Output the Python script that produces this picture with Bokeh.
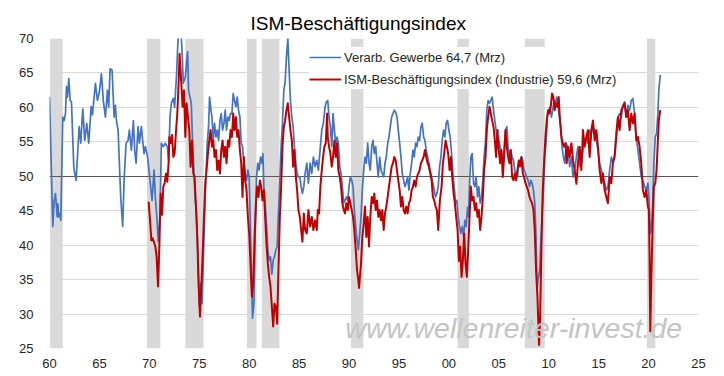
from bokeh.plotting import figure
from bokeh.models import Range1d, FixedTicker, Legend, LegendItem, Label
from bokeh.embed import file_html
from bokeh.resources import INLINE

# ---------------- data ----------------
# ISM PMI "Verarb. Gewerbe" (decimal year, value)
verarb = [
    (1960.00, 61.5), (1960.33, 42.7), (1960.47, 46.5), (1960.60, 47.5), (1960.77, 44.1),
    (1960.83, 46.0), (1960.93, 44.1), (1961.05, 44.6), (1961.13, 43.6), (1961.33, 58.6),
    (1961.47, 58.1), (1961.60, 59.1), (1961.70, 63.0), (1961.80, 61.5), (1961.93, 64.2),
    (1962.07, 61.0), (1962.20, 60.8), (1962.43, 51.4), (1962.53, 50.4), (1962.67, 49.4),
    (1962.80, 52.8), (1962.97, 57.2), (1963.13, 54.8), (1963.33, 59.8), (1963.53, 55.2),
    (1963.73, 57.7), (1963.93, 54.8), (1964.17, 60.1), (1964.30, 58.9), (1964.60, 63.5),
    (1964.80, 61.0), (1965.00, 62.3), (1965.20, 64.9), (1965.40, 60.8), (1965.60, 58.6),
    (1965.80, 62.5), (1965.93, 60.0), (1966.07, 65.6), (1966.27, 65.4), (1966.47, 58.6),
    (1966.60, 60.3), (1966.70, 58.1), (1966.87, 56.7), (1967.00, 51.9), (1967.13, 47.0),
    (1967.33, 42.7), (1967.47, 49.4), (1967.67, 54.8), (1967.87, 55.2), (1968.00, 56.7),
    (1968.20, 53.8), (1968.40, 58.1), (1968.53, 53.8), (1968.67, 51.9), (1968.87, 57.2),
    (1969.00, 54.8), (1969.20, 57.2), (1969.33, 55.2), (1969.47, 53.3), (1969.60, 54.3),
    (1969.80, 53.0), (1969.93, 51.4), (1970.13, 48.5), (1970.27, 46.5), (1970.47, 50.9),
    (1970.60, 47.0), (1970.80, 43.1), (1970.90, 40.5), (1971.07, 44.1), (1971.20, 54.8),
    (1971.40, 54.3), (1971.60, 54.8), (1971.80, 54.3), (1971.93, 52.3), (1972.07, 58.6),
    (1972.20, 60.6), (1972.40, 61.3), (1972.53, 60.0), (1972.73, 64.9), (1972.87, 69.8),
    (1973.03, 71.5), (1973.13, 72.0), (1973.27, 68.3), (1973.40, 63.5), (1973.60, 64.4),
    (1973.83, 68.1), (1973.93, 62.4), (1974.07, 61.5), (1974.20, 60.6), (1974.33, 54.8),
    (1974.47, 50.4), (1974.60, 46.5), (1974.73, 44.1), (1974.87, 38.3), (1975.00, 31.1),
    (1975.13, 34.4), (1975.27, 31.5), (1975.40, 37.3), (1975.53, 44.1), (1975.67, 49.9),
    (1975.80, 54.8), (1975.93, 57.2), (1976.03, 61.5), (1976.17, 59.6), (1976.27, 58.6),
    (1976.40, 55.2), (1976.53, 57.7), (1976.67, 55.7), (1976.80, 56.7), (1976.93, 55.2),
    (1977.07, 58.1), (1977.20, 59.1), (1977.33, 56.7), (1977.47, 57.7), (1977.60, 59.6),
    (1977.73, 56.7), (1977.87, 58.6), (1978.00, 58.1), (1978.13, 59.1), (1978.27, 59.1),
    (1978.40, 62.0), (1978.53, 61.0), (1978.67, 60.1), (1978.80, 61.5), (1978.93, 59.6),
    (1979.07, 58.6), (1979.20, 54.8), (1979.33, 54.3), (1979.47, 51.9), (1979.60, 50.4),
    (1979.73, 49.4), (1979.87, 50.9), (1980.00, 49.9), (1980.13, 42.2), (1980.27, 33.5),
    (1980.33, 29.4), (1980.47, 31.5), (1980.60, 41.2), (1980.73, 49.9), (1980.87, 51.9),
    (1981.00, 50.9), (1981.13, 52.8), (1981.27, 51.9), (1981.37, 53.3), (1981.47, 48.5),
    (1981.60, 46.1), (1981.73, 43.1), (1981.87, 39.3), (1982.00, 37.8), (1982.13, 38.3),
    (1982.27, 35.8), (1982.40, 37.8), (1982.53, 38.3), (1982.67, 39.3), (1982.80, 39.8),
    (1982.93, 44.6), (1983.07, 49.4), (1983.20, 54.3), (1983.33, 57.7), (1983.47, 62.5),
    (1983.60, 63.7), (1983.73, 67.3), (1983.87, 70.0), (1984.00, 65.4), (1984.13, 61.0),
    (1984.27, 58.6), (1984.40, 57.2), (1984.53, 54.3), (1984.67, 51.9), (1984.80, 50.4),
    (1984.93, 49.9), (1985.07, 49.9), (1985.20, 48.5), (1985.33, 47.5), (1985.47, 48.5),
    (1985.60, 50.4), (1985.77, 51.9), (1985.93, 49.0), (1986.10, 51.9), (1986.27, 50.4),
    (1986.43, 52.8), (1986.60, 51.4), (1986.77, 52.3), (1986.93, 50.9), (1987.10, 53.8),
    (1987.27, 56.7), (1987.43, 57.7), (1987.60, 60.1), (1987.73, 60.8), (1987.87, 61.0),
    (1988.00, 58.6), (1988.13, 57.2), (1988.27, 54.3), (1988.40, 59.1), (1988.53, 56.7),
    (1988.67, 54.8), (1988.80, 55.7), (1988.93, 54.8), (1989.07, 51.4), (1989.20, 50.4),
    (1989.33, 48.5), (1989.47, 46.1), (1989.60, 46.5), (1989.73, 47.0), (1989.87, 46.5),
    (1990.00, 48.5), (1990.13, 49.9), (1990.27, 49.4), (1990.40, 48.5), (1990.53, 45.1),
    (1990.67, 42.7), (1990.80, 40.7), (1990.93, 39.3), (1991.07, 41.7), (1991.20, 44.1),
    (1991.33, 48.0), (1991.47, 50.9), (1991.60, 52.8), (1991.73, 51.9), (1991.87, 54.8),
    (1992.00, 51.9), (1992.13, 50.9), (1992.27, 54.3), (1992.40, 55.2), (1992.53, 53.3),
    (1992.67, 54.3), (1992.80, 51.9), (1992.93, 49.9), (1993.07, 52.8), (1993.20, 50.9),
    (1993.33, 50.4), (1993.47, 49.9), (1993.60, 51.9), (1993.73, 52.8), (1993.87, 54.8),
    (1994.00, 55.7), (1994.13, 57.2), (1994.27, 58.6), (1994.40, 59.1), (1994.53, 59.6),
    (1994.67, 59.3), (1994.80, 58.6), (1994.93, 56.7), (1995.07, 54.8), (1995.20, 52.8),
    (1995.33, 50.4), (1995.47, 49.4), (1995.60, 48.5), (1995.73, 49.0), (1995.87, 49.9),
    (1996.00, 48.0), (1996.13, 50.4), (1996.27, 51.9), (1996.40, 53.8), (1996.53, 52.8),
    (1996.67, 54.8), (1996.80, 54.3), (1996.93, 55.7), (1997.07, 55.2), (1997.20, 57.2),
    (1997.33, 57.7), (1997.47, 55.7), (1997.60, 55.2), (1997.73, 53.8), (1997.87, 52.8),
    (1998.00, 51.9), (1998.13, 50.9), (1998.27, 49.9), (1998.40, 49.0), (1998.53, 48.0),
    (1998.67, 47.0), (1998.80, 47.5), (1998.93, 48.5), (1999.07, 51.4), (1999.20, 52.8),
    (1999.33, 55.2), (1999.47, 56.7), (1999.60, 55.7), (1999.73, 57.7), (1999.87, 58.1),
    (2000.00, 56.7), (2000.13, 55.7), (2000.27, 53.3), (2000.40, 50.4), (2000.53, 48.5),
    (2000.67, 46.1), (2000.80, 46.5), (2000.93, 44.1), (2001.07, 42.7), (2001.20, 41.7),
    (2001.33, 42.7), (2001.47, 41.2), (2001.60, 43.6), (2001.73, 42.7), (2001.87, 45.5),
    (2001.97, 44.1), (2002.07, 49.0), (2002.20, 52.8), (2002.33, 53.3), (2002.47, 49.0),
    (2002.60, 48.5), (2002.73, 49.9), (2002.87, 47.0), (2003.00, 48.5), (2003.13, 46.1),
    (2003.27, 47.0), (2003.40, 49.4), (2003.53, 52.8), (2003.67, 55.2), (2003.80, 59.6),
    (2003.93, 61.0), (2004.07, 60.6), (2004.20, 61.0), (2004.33, 61.5), (2004.47, 59.6),
    (2004.60, 58.1), (2004.73, 56.7), (2004.87, 54.8), (2005.00, 55.2), (2005.13, 54.3),
    (2005.27, 53.3), (2005.40, 51.9), (2005.53, 53.8), (2005.67, 56.7), (2005.80, 57.2),
    (2005.93, 54.3), (2006.07, 52.8), (2006.20, 53.8), (2006.33, 52.8), (2006.47, 52.3),
    (2006.60, 50.9), (2006.73, 50.4), (2006.87, 49.9), (2007.00, 51.9), (2007.13, 52.3),
    (2007.27, 52.8), (2007.40, 52.3), (2007.53, 50.9), (2007.67, 50.4), (2007.80, 49.9),
    (2007.93, 49.4), (2008.07, 48.5), (2008.20, 49.4), (2008.33, 49.0), (2008.47, 48.0),
    (2008.60, 46.1), (2008.73, 41.2), (2008.83, 33.5), (2008.92, 35.0), (2009.00, 35.5),
    (2009.10, 36.5), (2009.20, 40.0), (2009.30, 43.0), (2009.40, 46.0), (2009.50, 49.0),
    (2009.60, 53.0), (2009.73, 54.8), (2009.87, 58.6), (2010.00, 59.6), (2010.13, 60.1),
    (2010.27, 58.6), (2010.40, 59.6), (2010.53, 61.0), (2010.67, 60.6), (2010.80, 61.5),
    (2010.93, 60.1), (2011.07, 58.6), (2011.20, 57.2), (2011.33, 54.3), (2011.47, 52.8),
    (2011.60, 51.9), (2011.77, 54.8), (2011.93, 53.8), (2012.10, 51.4), (2012.27, 52.8),
    (2012.43, 49.9), (2012.60, 50.9), (2012.77, 52.8), (2012.93, 54.3), (2013.10, 51.4),
    (2013.27, 51.9), (2013.43, 53.8), (2013.60, 55.2), (2013.77, 55.7), (2013.93, 54.8),
    (2014.10, 56.7), (2014.27, 56.2), (2014.43, 57.2), (2014.60, 56.7), (2014.77, 55.2),
    (2014.93, 53.8), (2015.10, 51.9), (2015.27, 50.9), (2015.43, 49.9), (2015.60, 49.0),
    (2015.77, 48.0), (2015.93, 48.5), (2016.10, 50.9), (2016.27, 52.8), (2016.43, 51.9),
    (2016.60, 53.3), (2016.77, 56.7), (2016.93, 58.6), (2017.10, 59.1), (2017.27, 58.6),
    (2017.43, 60.3), (2017.60, 60.8), (2017.77, 58.6), (2017.93, 60.3), (2018.10, 59.6),
    (2018.27, 61.0), (2018.43, 61.3), (2018.60, 59.1), (2018.77, 55.7), (2018.93, 53.8),
    (2019.10, 51.9), (2019.27, 49.9), (2019.43, 49.4), (2019.60, 48.5), (2019.77, 48.0),
    (2019.93, 49.0), (2020.03, 47.0), (2020.17, 41.7), (2020.27, 42.2), (2020.40, 45.6),
    (2020.53, 51.9), (2020.67, 55.7), (2020.80, 56.2), (2020.93, 59.1), (2021.03, 62.5),
    (2021.17, 64.7),
]

# ISM employment index, manufacturing (decimal year, value)
beschaeft = [
    (1969.93, 46.3), (1970.07, 43.6), (1970.20, 40.7), (1970.33, 41.0), (1970.47, 40.4),
    (1970.60, 39.8), (1970.73, 38.3), (1970.87, 34.0), (1971.00, 39.8), (1971.13, 47.5),
    (1971.27, 44.4), (1971.40, 48.5), (1971.53, 49.0), (1971.67, 50.4), (1971.80, 49.2),
    (1971.93, 52.0), (1972.00, 55.7), (1972.13, 54.8), (1972.27, 56.0), (1972.40, 52.8),
    (1972.53, 53.3), (1972.67, 56.5), (1972.80, 59.1), (1972.93, 63.5), (1973.03, 67.8),
    (1973.20, 63.5), (1973.33, 60.1), (1973.47, 62.5), (1973.60, 55.7), (1973.73, 60.6),
    (1973.87, 58.6), (1974.00, 56.7), (1974.13, 51.4), (1974.27, 55.2), (1974.40, 50.4),
    (1974.53, 49.9), (1974.67, 45.6), (1974.80, 41.2), (1974.93, 34.4), (1975.07, 29.6),
    (1975.20, 34.0), (1975.33, 38.3), (1975.47, 44.1), (1975.60, 49.0), (1975.73, 50.9),
    (1975.87, 53.3), (1976.00, 55.2), (1976.13, 56.7), (1976.27, 54.3), (1976.40, 55.2),
    (1976.53, 52.8), (1976.67, 53.8), (1976.80, 50.9), (1976.93, 52.3), (1977.07, 50.4),
    (1977.20, 53.8), (1977.33, 55.2), (1977.47, 52.8), (1977.60, 54.3), (1977.73, 51.9),
    (1977.87, 55.2), (1978.00, 54.3), (1978.13, 56.7), (1978.27, 55.7), (1978.40, 59.1),
    (1978.53, 56.7), (1978.67, 58.6), (1978.80, 55.7), (1978.93, 56.7), (1979.07, 53.8),
    (1979.20, 51.9), (1979.33, 47.0), (1979.47, 52.8), (1979.60, 49.4), (1979.73, 48.0),
    (1979.87, 44.1), (1980.00, 41.7), (1980.13, 37.3), (1980.27, 32.5), (1980.40, 34.4),
    (1980.53, 40.7), (1980.67, 46.1), (1980.80, 48.5), (1980.93, 47.0), (1981.07, 49.4),
    (1981.20, 48.5), (1981.33, 46.5), (1981.47, 48.0), (1981.60, 44.1), (1981.73, 40.2),
    (1981.87, 37.3), (1982.00, 35.4), (1982.13, 34.0), (1982.27, 31.1), (1982.40, 28.2),
    (1982.53, 31.5), (1982.67, 31.1), (1982.80, 28.6), (1982.93, 36.4), (1983.07, 44.1),
    (1983.20, 48.5), (1983.33, 54.3), (1983.47, 57.2), (1983.60, 58.1), (1983.73, 59.6),
    (1983.87, 60.6), (1984.00, 58.6), (1984.13, 56.7), (1984.27, 55.2), (1984.40, 51.4),
    (1984.53, 53.8), (1984.67, 49.9), (1984.80, 48.0), (1984.93, 45.1), (1985.07, 44.1),
    (1985.20, 42.2), (1985.33, 40.5), (1985.47, 44.6), (1985.60, 42.2), (1985.77, 41.7),
    (1985.93, 45.1), (1986.10, 42.7), (1986.27, 44.1), (1986.43, 42.2), (1986.60, 43.6),
    (1986.77, 42.2), (1986.87, 45.1), (1987.00, 44.6), (1987.13, 48.5), (1987.27, 50.9),
    (1987.40, 52.8), (1987.53, 54.3), (1987.67, 54.8), (1987.80, 59.1), (1987.87, 55.7),
    (1988.00, 54.3), (1988.13, 53.3), (1988.27, 51.4), (1988.40, 52.8), (1988.53, 55.2),
    (1988.67, 52.8), (1988.80, 54.8), (1988.93, 50.9), (1989.07, 49.9), (1989.20, 48.5),
    (1989.33, 46.1), (1989.47, 45.1), (1989.60, 44.6), (1989.73, 46.1), (1989.87, 45.1),
    (1990.00, 47.0), (1990.13, 46.1), (1990.27, 45.1), (1990.40, 44.1), (1990.53, 42.2),
    (1990.67, 39.3), (1990.80, 36.4), (1990.93, 34.9), (1991.00, 33.8), (1991.20, 37.3),
    (1991.33, 41.2), (1991.47, 43.1), (1991.60, 45.6), (1991.73, 41.2), (1991.87, 44.1),
    (1992.00, 39.8), (1992.13, 44.1), (1992.27, 47.0), (1992.40, 46.1), (1992.53, 47.5),
    (1992.67, 45.1), (1992.80, 46.5), (1992.93, 44.1), (1993.07, 45.1), (1993.20, 43.6),
    (1993.33, 45.1), (1993.47, 42.2), (1993.60, 44.6), (1993.73, 45.6), (1993.87, 47.0),
    (1994.00, 48.5), (1994.13, 49.9), (1994.27, 51.4), (1994.40, 51.9), (1994.53, 52.8),
    (1994.67, 52.3), (1994.80, 50.9), (1994.93, 49.4), (1995.07, 48.0), (1995.20, 45.6),
    (1995.33, 47.0), (1995.47, 45.1), (1995.60, 44.6), (1995.73, 45.6), (1995.87, 44.6),
    (1996.00, 46.1), (1996.13, 46.5), (1996.27, 48.0), (1996.40, 48.5), (1996.53, 49.4),
    (1996.67, 48.5), (1996.80, 49.9), (1996.93, 50.4), (1997.07, 50.9), (1997.20, 51.9),
    (1997.33, 52.3), (1997.47, 52.8), (1997.60, 53.8), (1997.73, 52.8), (1997.87, 51.9),
    (1998.00, 51.4), (1998.13, 50.4), (1998.27, 49.4), (1998.40, 47.0), (1998.53, 46.5),
    (1998.67, 45.6), (1998.80, 45.1), (1998.93, 42.2), (1999.10, 46.5), (1999.27, 48.5),
    (1999.40, 51.9), (1999.53, 53.3), (1999.67, 55.2), (1999.80, 54.3), (1999.93, 53.3),
    (2000.07, 50.9), (2000.20, 52.8), (2000.33, 49.9), (2000.47, 47.5), (2000.60, 46.1),
    (2000.73, 44.1), (2000.87, 42.2), (2001.00, 37.7), (2001.13, 39.8), (2001.27, 35.4),
    (2001.40, 37.7), (2001.53, 41.7), (2001.67, 37.3), (2001.80, 35.4), (2001.93, 39.3),
    (2002.07, 44.1), (2002.20, 48.5), (2002.33, 46.5), (2002.47, 47.0), (2002.60, 45.1),
    (2002.73, 46.1), (2002.87, 44.1), (2003.00, 45.1), (2003.13, 42.2), (2003.27, 44.1),
    (2003.40, 47.0), (2003.53, 50.9), (2003.67, 52.8), (2003.80, 56.7), (2003.93, 58.6),
    (2004.07, 60.1), (2004.20, 59.1), (2004.33, 58.1), (2004.47, 57.2), (2004.60, 55.2),
    (2004.73, 52.8), (2004.87, 56.7), (2005.00, 53.8), (2005.13, 51.9), (2005.27, 53.8),
    (2005.40, 49.9), (2005.53, 52.8), (2005.67, 56.7), (2005.80, 54.3), (2005.93, 52.8),
    (2006.07, 51.9), (2006.20, 53.8), (2006.33, 49.9), (2006.47, 49.4), (2006.60, 50.4),
    (2006.73, 49.4), (2006.87, 50.9), (2007.00, 52.3), (2007.13, 51.4), (2007.27, 52.8),
    (2007.40, 50.4), (2007.53, 49.9), (2007.67, 49.0), (2007.80, 48.5), (2007.93, 48.0),
    (2008.07, 47.0), (2008.20, 46.5), (2008.33, 46.1), (2008.47, 45.1), (2008.60, 42.2),
    (2008.73, 36.4), (2008.87, 32.5), (2009.03, 25.5), (2009.13, 29.1), (2009.22, 36.0),
    (2009.30, 42.0), (2009.40, 48.0), (2009.53, 51.9), (2009.67, 55.7), (2009.80, 58.1),
    (2009.93, 59.6), (2010.07, 59.1), (2010.20, 60.1), (2010.33, 62.0), (2010.47, 61.5),
    (2010.60, 59.6), (2010.73, 60.6), (2010.87, 60.1), (2011.00, 61.5), (2011.13, 58.1),
    (2011.27, 55.7), (2011.40, 54.8), (2011.53, 54.3), (2011.67, 54.8), (2011.80, 51.9),
    (2011.93, 54.3), (2012.10, 52.8), (2012.27, 54.8), (2012.43, 52.3), (2012.60, 50.9),
    (2012.77, 48.9), (2012.93, 51.9), (2013.10, 54.3), (2013.27, 50.9), (2013.43, 56.7),
    (2013.60, 54.3), (2013.77, 55.7), (2013.93, 56.7), (2014.10, 52.8), (2014.27, 56.7),
    (2014.43, 58.1), (2014.60, 55.2), (2014.77, 56.7), (2014.93, 54.3), (2015.10, 50.9),
    (2015.27, 49.0), (2015.43, 50.4), (2015.60, 48.0), (2015.77, 47.0), (2015.93, 46.1),
    (2016.10, 49.9), (2016.27, 49.0), (2016.43, 51.9), (2016.60, 52.8), (2016.77, 55.7),
    (2016.93, 58.6), (2017.10, 56.7), (2017.27, 59.6), (2017.43, 60.1), (2017.60, 60.6),
    (2017.77, 58.6), (2017.93, 59.6), (2018.10, 56.7), (2018.27, 59.1), (2018.43, 57.7),
    (2018.60, 59.1), (2018.77, 55.2), (2018.93, 55.7), (2019.10, 54.3), (2019.27, 51.9),
    (2019.43, 48.0), (2019.60, 47.0), (2019.77, 48.0), (2019.93, 45.6), (2020.03, 45.1),
    (2020.10, 38.0), (2020.17, 27.5), (2020.30, 36.7), (2020.43, 44.1), (2020.53, 48.5),
    (2020.67, 49.0), (2020.80, 50.9), (2020.93, 55.2), (2021.03, 58.1), (2021.17, 59.6),
]

# recession periods (decimal years)
recession_start = [1960.07, 1969.77, 1973.60, 1979.77, 1981.27, 1990.20, 2000.87, 2007.60, 2019.83]
recession_end = [1961.33, 1971.10, 1975.43, 1980.73, 1983.03, 1991.43, 2002.00, 2009.60, 2020.67]

reference_level = 50
y_ticks = [25, 30, 35, 40, 45, 50, 55, 60, 65, 70]
x_ticks = [1960, 1965, 1970, 1975, 1980, 1985, 1990, 1995, 2000, 2005, 2010, 2015, 2020, 2025]
x_tick_labels = ["60", "65", "70", "75", "80", "85", "90", "95", "00", "05", "10", "15", "20", "25"]

title_text = "ISM-Beschäftigungsindex"
blue_name = "Verarb. Gewerbe"
red_name = "ISM-Beschäftigungsindex (Industrie)"
last_month = "Mrz"
watermark = "www.wellenreiter-invest.de"

# ---------------- plot ----------------
FONT = "Liberation Sans"
BLUE = "#4472C4"
RED = "#C00000"

y0, y1 = y_ticks[0], y_ticks[-1]
p = figure(width=724, height=376, output_backend="svg", toolbar_location=None,
           x_range=Range1d(x_ticks[0], x_ticks[-1]), y_range=Range1d(y0, y1),
           min_border_left=49, min_border_right=26, min_border_top=38, min_border_bottom=28,
           title=title_text)
p.outline_line_color = None
p.background_fill_color = "white"
p.border_fill_color = "white"

p.title.align = "left"
p.title.offset = 201
p.title.text_font = FONT
p.title.text_font_size = "19px"
p.title.text_font_style = "normal"
p.title.text_color = "black"

# recession bars
p.quad(left=recession_start, right=recession_end,
       bottom=[y0] * len(recession_start), top=[y1] * len(recession_start),
       fill_color="#d9d9d9", line_color=None)

# 50 line
p.hspan(y=[reference_level], line_color="#595959", line_width=1)

wm = Label(x=2006.5, y=28.0, text=watermark, text_font=FONT, text_font_style="italic",
           text_font_size="28.5px", text_color="#c4c4c4", text_align="center",
           text_baseline="middle")
p.add_layout(wm)

bx = [d for d, v in verarb]
by = [v for d, v in verarb]
rx = [d for d, v in beschaeft]
ry = [v for d, v in beschaeft]

r_blue = p.line(bx, by, line_color=BLUE, line_width=1.7, line_join="round")
r_red = p.line(rx, ry, line_color=RED, line_width=2, line_join="round")

def fmt(v):
    return f"{v:.1f}".replace(".", ",")

legend = Legend(items=[
    LegendItem(label=f"{blue_name} {fmt(by[-1])} ({last_month})", renderers=[r_blue]),
    LegendItem(label=f"{red_name} {fmt(ry[-1])} ({last_month})", renderers=[r_red]),
], location=(260, 259))
legend.background_fill_color = "white"
legend.background_fill_alpha = 1
legend.border_line_color = None
legend.label_text_font = FONT
legend.label_text_font_size = "13px"
legend.label_text_color = "#262626"
legend.glyph_width = 32
legend.glyph_height = 20
legend.label_height = 20
legend.spacing = 2
legend.padding = 4
legend.margin = 0
legend.label_standoff = 3
p.add_layout(legend)

# axes
p.xaxis.ticker = FixedTicker(ticks=x_ticks)
p.xaxis.major_label_overrides = {t: l for t, l in zip(x_ticks, x_tick_labels)}
p.yaxis.ticker = FixedTicker(ticks=y_ticks)
for ax in (p.xaxis[0], p.yaxis[0]):
    ax.axis_line_color = None
    ax.major_tick_line_color = None
    ax.minor_tick_line_color = None
    ax.major_label_text_font = FONT
    ax.major_label_text_font_size = "13px"
    ax.major_label_text_color = "#262626"
p.yaxis.major_label_standoff = 10
p.xaxis.major_label_standoff = 4
p.xgrid.visible = False
p.ygrid.ticker = FixedTicker(ticks=y_ticks)
p.ygrid.grid_line_color = "#d9d9d9"
p.ygrid.grid_line_width = 1

open("out.html", "w").write(file_html(p, INLINE))
